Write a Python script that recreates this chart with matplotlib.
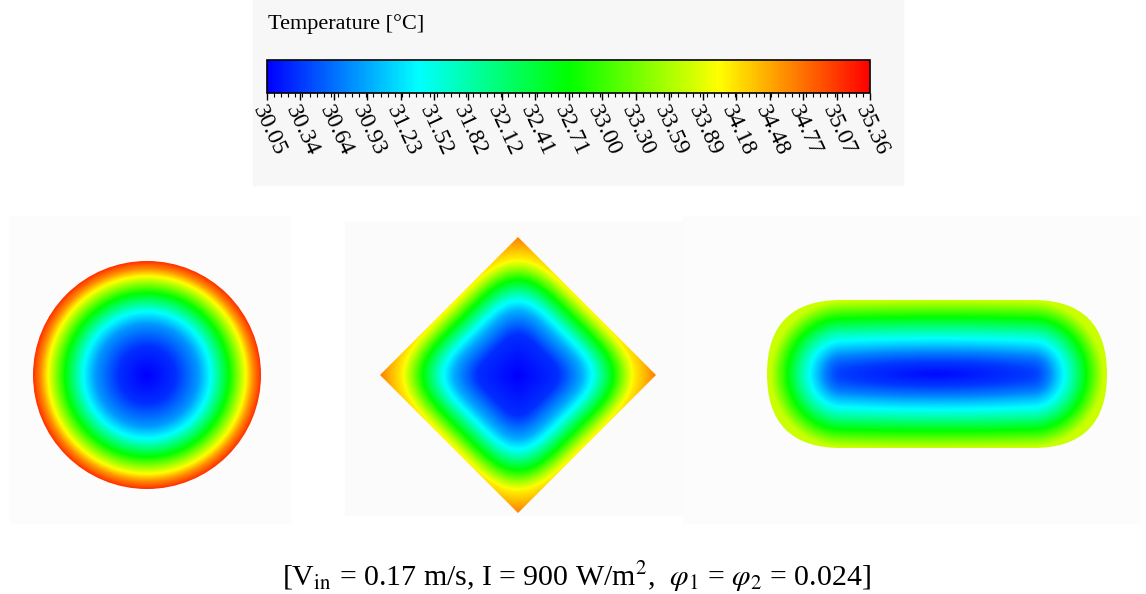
import numpy as np
import matplotlib.pyplot as plt
from matplotlib.colors import LinearSegmentedColormap
from matplotlib.patches import Circle, Polygon, FancyBboxPatch, Rectangle

plt.rcParams['font.family'] = ['Liberation Serif', 'DejaVu Serif']
plt.rcParams['mathtext.fontset'] = 'stix'

# ---- data ----
t_min, t_max = 30.05, 35.36
tick_labels = ["30.05", "30.34", "30.64", "30.93", "31.23", "31.52", "31.82", "32.12",
               "32.41", "32.71", "33.00", "33.30", "33.59", "33.89", "34.18", "34.48",
               "34.77", "35.07", "35.36"]
ramp_colors = ["#0000ff", "#00ffff", "#00ff00", "#ffff00", "#ff0000"]

# temperature vs normalised distance from the channel centre (0) to the wall (1)
circle_d = [0.0, 0.25, 0.45, 0.56, 0.72, 0.86, 0.93, 1.0]
circle_t = [30.05, 30.3, 30.85, 31.4, 32.7, 33.95, 34.6, 35.1]

diamond_d = [0.0, 0.35, 0.55, 0.66, 0.82, 0.93, 1.0, 1.19]
diamond_t = [30.05, 30.3, 30.95, 31.5, 32.7, 33.6, 34.1, 34.7]

stadium_d = [0.0, 0.16, 0.3, 0.38, 0.47, 0.6, 0.78, 0.92, 1.0]
stadium_t = [30.1, 30.35, 30.75, 31.05, 31.35, 31.9, 32.75, 33.4, 33.75]

caption = r"[V$_{\rm in}$ = 0.17 m/s, I = 900 W/m$^2$,  $\varphi_1$ = $\varphi_2$ = 0.024]"

cmap = LinearSegmentedColormap.from_list("ansys", ramp_colors)
W, H = 1146, 594

fig = plt.figure(figsize=(W / 100, H / 100), dpi=100)
ax = fig.add_axes([0, 0, 1, 1])
ax.set_xlim(0, W)
ax.set_ylim(H, 0)
ax.axis("off")

# faint panel backgrounds
ax.add_patch(Rectangle((253, 0), 650, 185, color="#f7f7f7", zorder=0))
ax.add_patch(Rectangle((10, 216), 280, 307, color="#fcfcfc", zorder=0))
ax.add_patch(Rectangle((345, 222), 347, 293, color="#fbfbfb", zorder=0))
ax.add_patch(Rectangle((683, 216), 457, 307, color="#fcfcfc", zorder=0))


def draw_field(x0, x1, y0, y1, dist, d_pts, t_pts, clip):
    xs = np.linspace(x0, x1, 500)
    ys = np.linspace(y0, y1, 500)
    X, Y = np.meshgrid(xs, ys)
    T = np.interp(dist(X, Y), d_pts, t_pts)
    im = ax.imshow(T, extent=[x0, x1, y1, y0], origin="upper", cmap=cmap,
                   vmin=t_min, vmax=t_max, interpolation="bilinear", zorder=2)
    ax.add_patch(clip)
    im.set_clip_path(clip)


# circle
cx, cy, r = 147, 375, 114
circ = Circle((cx, cy), r, fc="none", ec="none")
draw_field(cx - r, cx + r, cy - r, cy + r,
           lambda X, Y: np.hypot(X - cx, Y - cy) / r, circle_d, circle_t, circ)

# diamond (square rotated 45 deg)
dx, dy, hd = 518, 375, 138
s = hd / np.sqrt(2)


def diamond_dist(X, Y):
    u = ((X - dx) + (Y - dy)) / np.sqrt(2)
    v = ((X - dx) - (Y - dy)) / np.sqrt(2)
    return (np.abs(u) ** 4 + np.abs(v) ** 4) ** 0.25 / s


dia = Polygon([(dx, dy - hd), (dx + hd, dy), (dx, dy + hd), (dx - hd, dy)],
              closed=True, fc="none", ec="none")
draw_field(dx - hd, dx + hd, dy - hd, dy + hd, diamond_dist, diamond_d, diamond_t, dia)

# stadium
sx, sy, R, L = 937, 374, 74, 96


def stadium_dist(X, Y):
    qx = np.maximum(np.abs(X - sx) - L, 0)
    d = np.hypot(qx, Y - sy) / R
    return np.sqrt(d ** 2 + (0.3 * np.abs(X - sx) / (L + R)) ** 2)


stad = FancyBboxPatch((sx - L - R, sy - R), 2 * (L + R), 2 * R,
                      boxstyle=f"round,pad=0,rounding_size={R}", fc="none", ec="none")
draw_field(sx - L - R, sx + L + R, sy - R, sy + R, stadium_dist, stadium_d, stadium_t, stad)

# colour bar
cax = fig.add_axes([267 / W, 1 - 93 / H, 603 / W, 33 / H])
sm = plt.cm.ScalarMappable(cmap=cmap, norm=plt.Normalize(t_min, t_max))
cb = fig.colorbar(sm, cax=cax, orientation="horizontal")
tick_vals = [float(t) for t in tick_labels]
cb.set_ticks(tick_vals)
cb.set_ticklabels(tick_labels)
cb.outline.set_linewidth(1.2)
cax.set_xticks(np.linspace(t_min, t_max, 18 * 5 - 4), minor=True)
cax.tick_params(axis="x", which="major", length=5, width=1, direction="out", pad=2)
cax.tick_params(axis="x", which="minor", length=3, width=0.8, direction="out")
for lab in cax.get_xticklabels():
    lab.set_rotation(-65)
    lab.set_rotation_mode("anchor")
    lab.set_ha("left")
    lab.set_va("top")
    lab.set_fontsize(17)

fig.text(268 / W, 1 - 24 / H, "Temperature [°C]", fontsize=16, ha="left", va="center")

fig.text(576 / W, 1 - 577 / H, caption, fontsize=21.5, ha="center", va="center")

fig.savefig("out.png", dpi=100)
